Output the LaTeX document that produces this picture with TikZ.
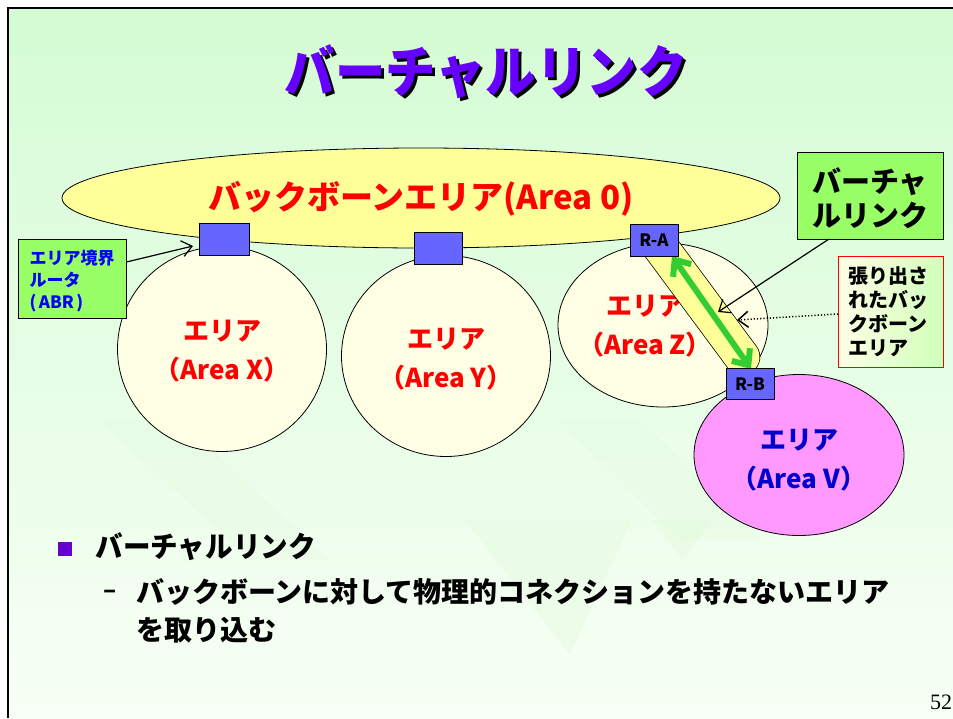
\documentclass[tikz,border=0pt]{standalone}
\usepackage{graphicx}
\usepackage{fontspec}
\setmainfont{Noto Sans CJK JP}
\newfontfamily\tms{Liberation Serif}
\usetikzlibrary{arrows.meta,shapes.geometric}
\definecolor{bgtop}{HTML}{D4FCD4}
\definecolor{bgmid}{HTML}{E4FCE2}
\definecolor{bgbot}{HTML}{F8FFF6}
\definecolor{stripe}{HTML}{DDF8D6}
\definecolor{bbyellow}{HTML}{FFFF99}
\definecolor{areafill}{HTML}{FFFFE6}
\definecolor{pinkfill}{HTML}{FF99FF}
\definecolor{routerblue}{HTML}{6666FF}
\definecolor{callgreen}{HTML}{99FF66}
\definecolor{titlepurple}{HTML}{6600FF}
\definecolor{bulletpurple}{HTML}{6600CC}
\definecolor{linkgreen}{HTML}{33CC33}
\definecolor{areablue}{HTML}{0000CC}
\definecolor{abrblue}{HTML}{0000FF}
\tikzset{
  area/.style={ellipse, draw=black, line width=0.8pt, fill=areafill, inner sep=0pt},
  router/.style={draw=black, line width=0.8pt, fill=routerblue, minimum width=50pt, minimum height=32pt, inner sep=0pt, font=\bfseries\fontsize{17}{17}\selectfont},
  arealabel/.style={text=red, font=\bfseries\fontsize{26}{39}\selectfont, align=center},
  callout/.style={draw=black, line width=0.8pt, fill=callgreen, inner sep=0pt},
  openhead/.style={-{Straight Barb[length=10pt,width=16pt]}, line width=1.2pt}
}
\begin{document}
\begin{tikzpicture}[x=1pt,y=-1pt]
\useasboundingbox (0,0) rectangle (953,718);
\fill[white] (0,0) rectangle (953,718);
\shade[top color=bgtop, middle color=bgmid, bottom color=bgbot] (8,8) rectangle (953,718);
% faint background stripes
\fill[stripe, opacity=0.3] (465,520) -- (632,520) -- (570,655) -- cycle;
\fill[stripe, opacity=0.3] (652,520) -- (712,520) -- (682,560) -- cycle;
\fill[stripe, opacity=0.2] (100,420) -- (180,420) -- (330,560) -- (250,560) -- cycle;
\fill[stripe, opacity=0.2] (560,420) -- (640,420) -- (760,540) -- (680,540) -- cycle;
\draw[black, line width=2pt] (8,718) -- (8,8) -- (953,8);

% title (with drop shadow)
\node[text=black, font=\bfseries\fontsize{56}{56}\selectfont] (titleshadow) at (489,75) {\scalebox{0.9}[1]{バーチャルリンク}};
\node[text=titlepurple, font=\bfseries\fontsize{56}{56}\selectfont] (title) at (486,72) {\scalebox{0.9}[1]{バーチャルリンク}};

% areas
\node[area, minimum width=209pt, minimum height=205pt] (ax) at (222,349) {};
\node[area, minimum width=209pt, minimum height=201pt] (ay) at (446,356) {};
\node[area, minimum width=210pt, minimum height=164pt] (az) at (663,325) {};
\node[area, fill=pinkfill, minimum width=210pt, minimum height=161pt] (av) at (799,455) {};

% backbone
\node[ellipse, draw=black, line width=0.8pt, fill=bbyellow, minimum width=718pt, minimum height=100pt, inner sep=0pt] (bb) at (421,198) {};
\node[text=red, font=\bfseries\fontsize{33}{33}\selectfont] (bbl) at (421,199) {バックボーンエリア(Area 0)};

% area labels
\node[arealabel] (lx) at (222,351) {エリア\\（Area X）};
\node[arealabel] (ly) at (446,359) {エリア\\（Area Y）};
\node[arealabel] (lz) at (645,326) {エリア\\（Area Z）};
\node[arealabel, text=areablue] (lv) at (799,460) {エリア\\（Area V）};

% virtual link tube
\coordinate (t1) at (659,245);
\coordinate (t2) at (742,357);
\draw[black, line width=36.5pt, line cap=round] (t1) -- (t2);
\draw[bbyellow, line width=35pt, line cap=round] (t1) -- (t2);
\coordinate (g1) at (672,256);
\coordinate (g2) at (751,369);
\draw[linkgreen, line width=6pt, {Straight Barb[length=13pt,width=22pt]}-{Straight Barb[length=13pt,width=22pt]}] (g1) -- (g2);

% routers
\node[router] (rx) at (224,239) {};
\node[router, minimum width=48pt] (ry) at (438,248) {};
\node[router, minimum width=48pt] (ra) at (654,240) {R-A};
\node[router, minimum width=48pt, minimum height=31pt] (rb) at (750,384) {R-B};

% ABR callout
\node[callout, minimum width=108pt, minimum height=79pt] (abr) at (72,279) {};
\node[text=abrblue, font=\bfseries\fontsize{17}{22}\selectfont, align=left, anchor=west] (abrt) at (26,281) {エリア境界\\ルータ\\(\hspace{0.15em}ABR\hspace{0.15em})};
\coordinate (abrtip) at (193,246);
\draw[openhead] (abr.east |- 0,262) -- (abrtip);

% virtual link callout
\node[callout, minimum width=146pt, minimum height=87pt] (vl) at (870,196) {};
\node[font=\bfseries\fontsize{29}{34}\selectfont, align=left] (vlt) at (870,198) {バーチャ\\ルリンク};
\coordinate (vltip) at (718,312);
\draw[openhead] (829,239) -- (vltip);

% extended backbone callout
\shade[left color=areafill, right color=callgreen!45, draw=red, line width=0.8pt] (838,256) rectangle (943,367);
\node[font=\bfseries\fontsize{20}{24}\selectfont, align=left, anchor=west] (ebt) at (845,312) {張り出さ\\れたバッ\\クボーン\\エリア};
\coordinate (ebs) at (838,314);
\coordinate (ebtip) at (737,320);
\draw[openhead, dotted, line width=1.5pt] (ebs) -- (ebtip);

% bullets
\node[fill=bulletpurple, minimum size=14pt, inner sep=0pt] (bsq) at (65,549) {};
\node[anchor=west, font=\bfseries\fontsize{29}{29}\selectfont] (b1) at (92,547) {\scalebox{0.95}[1]{バーチャルリンク}};
\node[anchor=west, font=\bfseries\fontsize{24}{24}\selectfont] (dash) at (100,594) {–};
\node[anchor=north west, font=\bfseries\fontsize{28}{38}\selectfont, align=left, inner sep=0pt] (b2) at (136,578) {バックボーンに対して物理的コネクションを持たないエリア\\を取り込む};

% page number
\node[anchor=west, font=\tms\fontsize{22}{22}\selectfont, inner sep=0pt] (pg) at (930,702) {52};
\end{tikzpicture}
\end{document}
